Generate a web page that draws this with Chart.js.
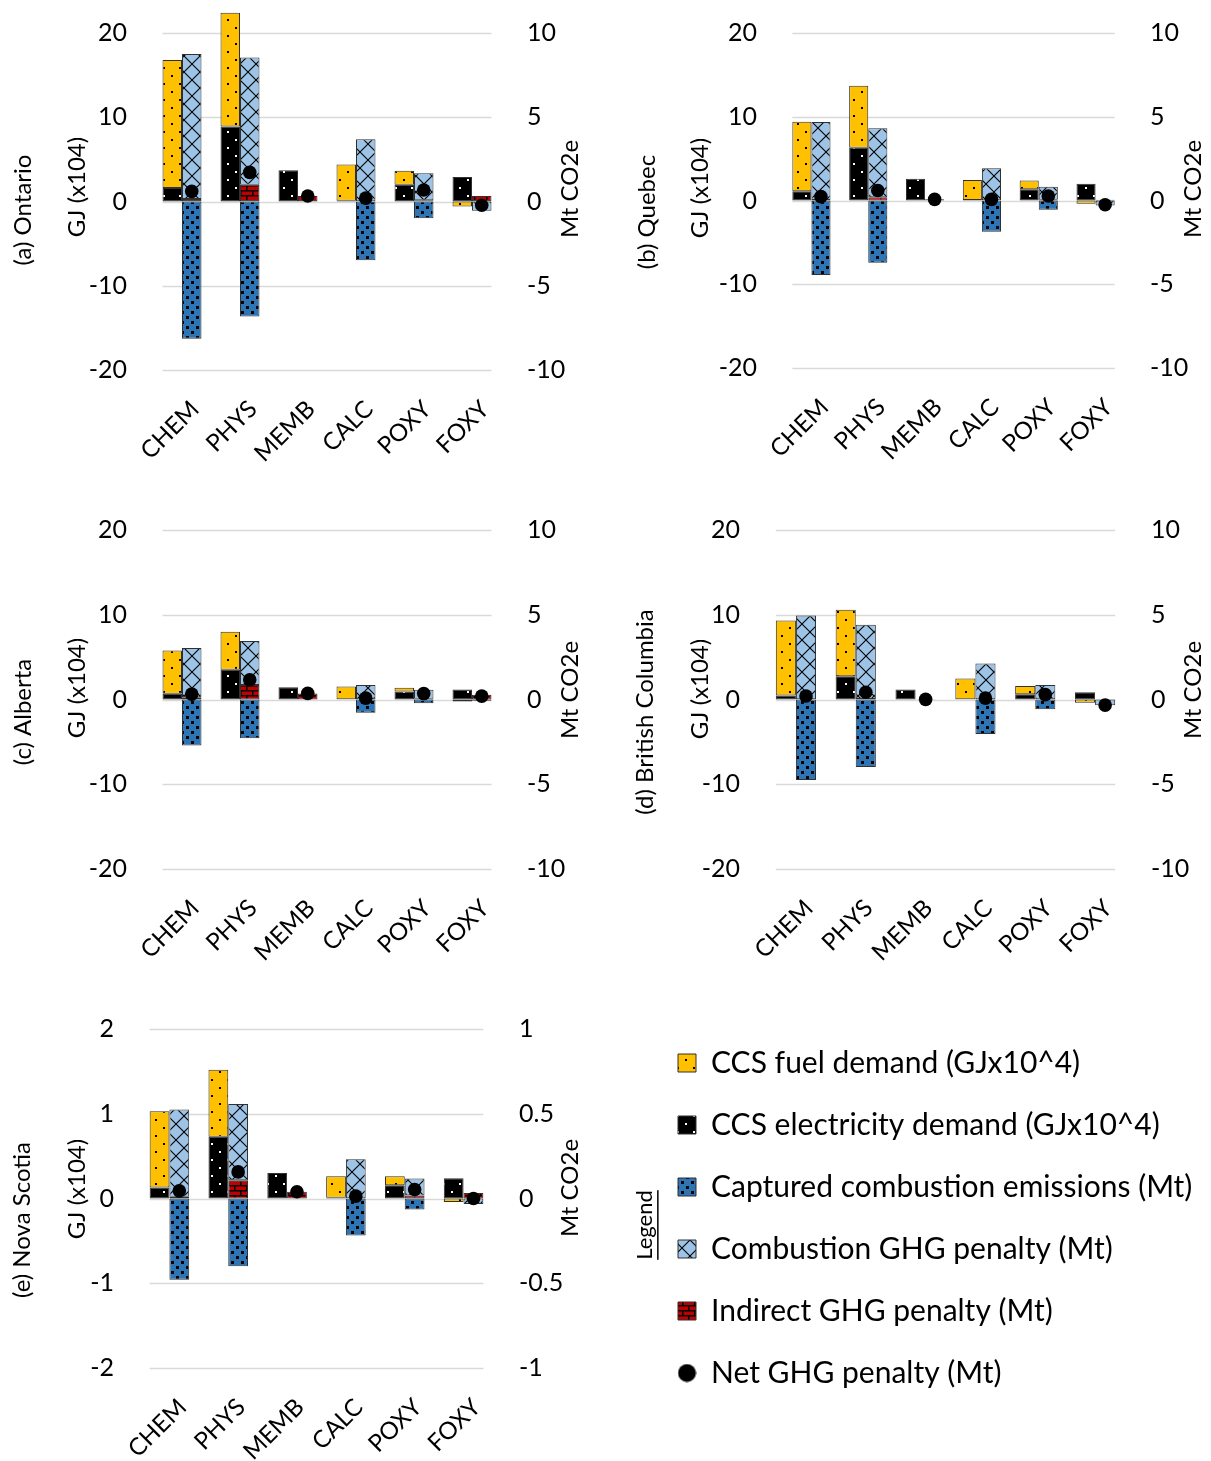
<!DOCTYPE html>
<html>
<head>
<meta charset="utf-8">
<title>CCS energy demand and GHG penalty by province</title>
<script src="https://cdn.jsdelivr.net/npm/chart.js@4/dist/chart.umd.min.js"></script>
<style>
  html, body { margin: 0; padding: 0; background: #ffffff; }
  #wrap { position: relative; width: 1211px; height: 1461px; overflow: hidden; }
  #wrap canvas { position: absolute; }
</style>
</head>
<body>
<div id="wrap">
  <canvas id="panelA"></canvas>
  <canvas id="panelB"></canvas>
  <canvas id="panelC"></canvas>
  <canvas id="panelD"></canvas>
  <canvas id="panelE"></canvas>
  <canvas id="legendBox"></canvas>
</div>
<script>
// ---- categories and tick labels ----
const categories = ['CHEM', 'PHYS', 'MEMB', 'CALC', 'POXY', 'FOXY'];
const ticksGJ = [-20, -10, 0, 10, 20];
const ticksMt = [-10, -5, 0, 5, 10];
const ticksGJSmall = [-2, -1, 0, 1, 2];
const ticksMtSmall = [-1, -0.5, 0, 0.5, 1];

// ---- (a) Ontario: GJ x10^4 and Mt CO2e ----
const ontarioElec       = [1.6, 8.9, 3.7, 0.1, 2.0, 2.9];
const ontarioFuel       = [15.2, 13.5, 0, 4.3, 1.65, -0.6];
const ontarioIndirect   = [0.15, 1.0, 0.33, 0.02, 0.08, 0.33];
const ontarioCombustion = [8.6, 7.55, 0, 3.67, 1.6, -0.55];
const ontarioCaptured   = [-8.15, -6.82, 0, -3.49, -1.0, 0];
const ontarioNet        = [0.6, 1.73, 0.33, 0.2, 0.68, -0.22];

// ---- (b) Quebec ----
const quebecElec       = [1.1, 6.3, 2.6, 0.05, 1.35, 2.0];
const quebecFuel       = [8.3, 7.4, 0, 2.4, 1.03, -0.4];
const quebecIndirect   = [0.03, 0.2, 0.07, 0.01, 0.04, 0.05];
const quebecCombustion = [4.65, 4.12, 0, 1.92, 0.78, -0.3];
const quebecCaptured   = [-4.45, -3.72, 0, -1.86, -0.55, 0];
const quebecNet        = [0.23, 0.6, 0.07, 0.07, 0.27, -0.25];

// ---- (c) Alberta ----
const albertaElec       = [0.67, 3.5, 1.45, 0.03, 0.94, 1.18];
const albertaFuel       = [5.1, 4.5, 0, 1.5, 0.44, -0.24];
const albertaIndirect   = [0.1, 0.86, 0.36, 0.01, 0.05, 0.28];
const albertaCombustion = [2.94, 2.59, 0, 0.85, 0.52, -0.08];
const albertaCaptured   = [-2.72, -2.29, 0, -0.78, -0.22, 0];
const albertaNet        = [0.32, 1.16, 0.36, 0.08, 0.35, 0.2];

// ---- (d) British Columbia ----
const bcElec       = [0.47, 2.74, 1.18, 0.03, 0.62, 0.86];
const bcFuel       = [8.86, 7.85, 0, 2.44, 0.98, -0.39];
const bcIndirect   = [0.02, 0.03, 0.01, 0.01, 0.01, 0.01];
const bcCombustion = [4.94, 4.38, 0, 2.11, 0.85, -0.34];
const bcCaptured   = [-4.75, -3.98, 0, -2.04, -0.57, 0];
const bcNet        = [0.21, 0.43, 0.01, 0.08, 0.29, -0.33];

// ---- (e) Nova Scotia ----
const nsElec       = [0.13, 0.73, 0.30, 0.01, 0.157, 0.24];
const nsFuel       = [0.90, 0.79, 0, 0.254, 0.107, -0.04];
const nsIndirect   = [0.01, 0.108, 0.04, 0.002, 0.018, 0.033];
const nsCombustion = [0.515, 0.449, 0, 0.23, 0.1, -0.033];
const nsCaptured   = [-0.48, -0.40, 0, -0.218, -0.065, 0];
const nsNet        = [0.045, 0.157, 0.04, 0.014, 0.053, 0.0];

// ---- series labels ----
const nameFuel       = 'CCS fuel demand (GJx10^4)';
const nameElec       = 'CCS electricity demand (GJx10^4)';
const nameCaptured   = 'Captured combustion emissions (Mt)';
const nameCombustion = 'Combustion GHG penalty (Mt)';
const nameIndirect   = 'Indirect GHG penalty (Mt)';
const nameNet        = 'Net GHG penalty (Mt)';
const legendOrder = [nameFuel, nameElec, nameCaptured, nameCombustion, nameIndirect, nameNet];

// ---- styling ----
const FONT = 'Lato';
const TEXT = '#000000';
const CAT_PCT = 0.672;   // share of a category taken by the two side-by-side bars
Chart.defaults.font.family = FONT;
Chart.defaults.color = TEXT;

function makePattern(w, h, bg, paint) {
  const c = document.createElement('canvas');
  c.width = w; c.height = h;
  const g = c.getContext('2d');
  g.fillStyle = bg; g.fillRect(0, 0, w, h);
  paint(g);
  return g.createPattern(c, 'repeat');
}
const fillFuel = makePattern(16, 16, '#FFC000', g => {
  g.fillStyle = '#000'; g.fillRect(3, 3, 2, 2); g.fillRect(11, 11, 2, 2);
});
const fillElec = makePattern(16, 16, '#000000', g => {
  g.fillStyle = '#fff'; g.fillRect(3, 3, 2, 2); g.fillRect(11, 11, 2, 2);
});
const fillCaptured = makePattern(10, 10, '#2E75B6', g => {
  g.fillStyle = '#000'; g.fillRect(1, 1, 3, 3); g.fillRect(6, 6, 3, 3);
});
const fillCombustion = makePattern(16, 16, '#9DC3E6', g => {
  g.strokeStyle = '#000'; g.lineWidth = 1.1;
  g.beginPath();
  g.moveTo(0, 0); g.lineTo(16, 16);
  g.moveTo(16, 0); g.lineTo(0, 16);
  g.stroke();
});
const fillIndirect = makePattern(12, 10, '#C00000', g => {
  g.fillStyle = '#000';
  g.fillRect(0, 0, 12, 1.5); g.fillRect(0, 5, 12, 1.5);
  g.fillRect(0, 0, 1.5, 5); g.fillRect(6, 5, 1.5, 5);
});

// legend marker for the net penalty points
const dotImage = (() => {
  const c = document.createElement('canvas'); c.width = 19; c.height = 19;
  const g = c.getContext('2d'); g.fillStyle = '#000';
  g.beginPath(); g.arc(9.5, 9.5, 9, 0, Math.PI * 2); g.fill();
  return c;
})();

const nz = arr => arr.map(v => (v === 0 ? null : v));

function barSet(label, values, axis, stack, fill) {
  return {
    type: 'bar', label, data: nz(values), yAxisID: axis, stack,
    backgroundColor: fill, borderColor: '#303030', borderWidth: 1, borderSkipped: false,
    categoryPercentage: CAT_PCT, barPercentage: 1, clip: false, pointStyle: 'rect'
  };
}

function buildDatasets(s) {
  return [
    barSet(nameElec, s.elec, 'y', 'gj', fillElec),
    barSet(nameFuel, s.fuel, 'y', 'gj', fillFuel),
    barSet(nameIndirect, s.indirect, 'y2', 'mt', fillIndirect),
    barSet(nameCombustion, s.combustion, 'y2', 'mt', fillCombustion),
    barSet(nameCaptured, s.captured, 'y2', 'mt', fillCaptured),
    {
      type: 'line', label: nameNet, data: s.net, yAxisID: 'y2', showLine: false,
      backgroundColor: '#000', borderColor: '#000', pointRadius: 6.8, pointHoverRadius: 6.8,
      pointBorderWidth: 0, pointStyle: 'circle', order: -1, clip: false
    }
  ];
}

// net-penalty points sit over the centre of the Mt bar of their category
const alignNetPoints = {
  id: 'alignNetPoints',
  afterDatasetsUpdate(chart) {
    const metas = chart.getSortedVisibleDatasetMetas();
    const mtBar = metas.find(m => m.type === 'bar' && m.stack === 'mt');
    const net = metas.find(m => m.type === 'line');
    if (!mtBar || !net) return;
    net.data.forEach((pt, i) => {
      const bar = mtBar.data[i];
      if (bar && isFinite(bar.x)) pt.x = bar.x;
    });
  }
};

// horizontal gridlines spanning the bar groups
const insetGrid = {
  id: 'insetGrid',
  beforeDatasetsDraw(chart) {
    const { ctx, chartArea } = chart;
    const y = chart.scales.y;
    const pitch = chartArea.width / categories.length;
    const inset = pitch * (1 - CAT_PCT) / 2;
    ctx.save();
    ctx.strokeStyle = '#D9D9D9';
    ctx.lineWidth = 1.6;
    y.ticks.forEach(t => {
      const py = Math.round(y.getPixelForValue(t.value)) + 0.5;
      ctx.beginPath();
      ctx.moveTo(chartArea.left + inset, py);
      ctx.lineTo(chartArea.right - inset, py);
      ctx.stroke();
    });
    ctx.restore();
  }
};

// rotated side titles (panel name, left and right axis titles)
const sideTitles = {
  id: 'sideTitles',
  afterDraw(chart, args, opts) {
    const { ctx } = chart;
    (opts.items || []).forEach(it => {
      const size = it.size || 24;
      ctx.save();
      ctx.translate(it.x, it.y);
      ctx.rotate(-Math.PI / 2);
      ctx.font = `${size}px ${FONT}`;
      ctx.fillStyle = TEXT;
      ctx.textAlign = 'center';
      ctx.textBaseline = 'middle';
      ctx.fillText(it.text, 0, 0);
      if (it.underline) {
        const w = ctx.measureText(it.text).width;
        ctx.fillRect(-w / 2, size * 0.55, w, 1.5);
      }
      ctx.restore();
    });
  }
};

const fixedTicks = values => scale => { scale.ticks = values.map(v => ({ value: v })); };
const plainLabel = v => String(v);

function makePanel(p) {
  const cv = document.getElementById(p.id);
  cv.width = p.w; cv.height = p.h;
  cv.style.left = p.x + 'px'; cv.style.top = p.y + 'px';
  const a = p.area;
  const gj = p.gjTicks, mt = p.mtTicks;
  return new Chart(cv, {
    type: 'bar',
    data: { labels: categories, datasets: buildDatasets(p.series) },
    options: {
      responsive: false, animation: false, events: [],
      layout: { padding: { left: 0, right: 0, top: a.t, bottom: 0 } },
      scales: {
        x: {
          type: 'category', offset: true, stacked: true,
          grid: { display: false }, border: { display: false },
          ticks: { font: { size: 24 }, color: TEXT, minRotation: 45, maxRotation: 45,
                   autoSkip: false, padding: 17, labelOffset: 13 },
          afterFit: s => { s.height = p.h - a.b; }
        },
        y: {
          position: 'left', stacked: true, min: gj[0], max: gj[gj.length - 1],
          grid: { display: false }, border: { display: false },
          ticks: { font: { size: 25 }, color: TEXT, padding: 18, callback: plainLabel },
          afterBuildTicks: fixedTicks(gj),
          afterFit: s => { s.width = a.l; }
        },
        y2: {
          position: 'right', stacked: true, min: mt[0], max: mt[mt.length - 1],
          grid: { display: false }, border: { display: false },
          ticks: { font: { size: 25 }, color: TEXT, padding: 18, callback: plainLabel },
          afterBuildTicks: fixedTicks(mt),
          afterFit: s => { s.width = p.w - a.r; }
        }
      },
      plugins: {
        legend: { display: false },
        tooltip: { enabled: false },
        sideTitles: { items: p.titles }
      }
    },
    plugins: [alignNetPoints, insetGrid, sideTitles]
  });
}

makePanel({
  id: 'panelA', x: 0, y: 0, w: 610, h: 480, area: { l: 153, r: 501, t: 30, b: 370 },
  gjTicks: ticksGJ, mtTicks: ticksMt,
  series: { elec: ontarioElec, fuel: ontarioFuel, indirect: ontarioIndirect,
            combustion: ontarioCombustion, captured: ontarioCaptured, net: ontarioNet },
  titles: [{ text: '(a) Ontario', x: 23, y: 210 }, { text: 'GJ (x104)', x: 77, y: 187 },
           { text: 'Mt CO2e', x: 570, y: 189 }]
});
makePanel({
  id: 'panelB', x: 610, y: 0, w: 601, h: 480, area: { l: 173, r: 514, t: 31, b: 368 },
  gjTicks: ticksGJ, mtTicks: ticksMt,
  series: { elec: quebecElec, fuel: quebecFuel, indirect: quebecIndirect,
            combustion: quebecCombustion, captured: quebecCaptured, net: quebecNet },
  titles: [{ text: '(b) Quebec', x: 37, y: 212 }, { text: 'GJ (x104)', x: 90, y: 188 },
           { text: 'Mt CO2e', x: 583, y: 189 }]
});
makePanel({
  id: 'panelC', x: 0, y: 480, w: 610, h: 500, area: { l: 153, r: 501, t: 50, b: 389 },
  gjTicks: ticksGJ, mtTicks: ticksMt,
  series: { elec: albertaElec, fuel: albertaFuel, indirect: albertaIndirect,
            combustion: albertaCombustion, captured: albertaCaptured, net: albertaNet },
  titles: [{ text: '(c) Alberta', x: 23, y: 232 }, { text: 'GJ (x104)', x: 77, y: 208 },
           { text: 'Mt CO2e', x: 570, y: 210 }]
});
makePanel({
  id: 'panelD', x: 610, y: 480, w: 601, h: 500, area: { l: 156, r: 515, t: 50, b: 389 },
  gjTicks: ticksGJ, mtTicks: ticksMt,
  series: { elec: bcElec, fuel: bcFuel, indirect: bcIndirect,
            combustion: bcCombustion, captured: bcCaptured, net: bcNet },
  titles: [{ text: '(d) British Columbia', x: 35, y: 232 }, { text: 'GJ (x104)', x: 90, y: 209 },
           { text: 'Mt CO2e', x: 583, y: 210 }]
});
makePanel({
  id: 'panelE', x: 0, y: 980, w: 610, h: 481, area: { l: 140, r: 493, t: 49, b: 388 },
  gjTicks: ticksGJSmall, mtTicks: ticksMtSmall,
  series: { elec: nsElec, fuel: nsFuel, indirect: nsIndirect,
            combustion: nsCombustion, captured: nsCaptured, net: nsNet },
  titles: [{ text: '(e) Nova Scotia', x: 22, y: 240 }, { text: 'GJ (x104)', x: 77, y: 209 },
           { text: 'Mt CO2e', x: 570, y: 208 }]
});

// ---- shared legend ----
(function makeLegend() {
  const cv = document.getElementById('legendBox');
  cv.width = 601; cv.height = 440;
  cv.style.left = '610px'; cv.style.top = '1000px';
  const none = [];
  const datasets = buildDatasets({ elec: none, fuel: none, indirect: none,
                                   combustion: none, captured: none, net: none });
  new Chart(cv, {
    type: 'bar',
    data: { labels: categories, datasets },
    options: {
      responsive: false, animation: false, events: [],
      layout: { padding: { left: 36, top: 16 } },
      scales: { x: { display: false }, y: { display: false }, y2: { display: false } },
      plugins: {
        tooltip: { enabled: false },
        legend: {
          display: true, position: 'left', align: 'start', maxWidth: 565,
          labels: {
            font: { size: 30 }, color: TEXT, padding: 32,
            usePointStyle: true, boxWidth: 18, boxHeight: 18,
            generateLabels(chart) {
              const items = Chart.defaults.plugins.legend.labels.generateLabels(chart);
              return items.map(it => Object.assign(it, {
                pointStyle: it.text === nameNet ? dotImage : 'rect'
              }));
            },
            sort: (a, b) => legendOrder.indexOf(a.text) - legendOrder.indexOf(b.text)
          }
        },
        sideTitles: { items: [{ text: 'Legend', x: 35, y: 225, size: 22, underline: true }] }
      }
    },
    plugins: [sideTitles]
  });
})();
</script>
</body>
</html>
